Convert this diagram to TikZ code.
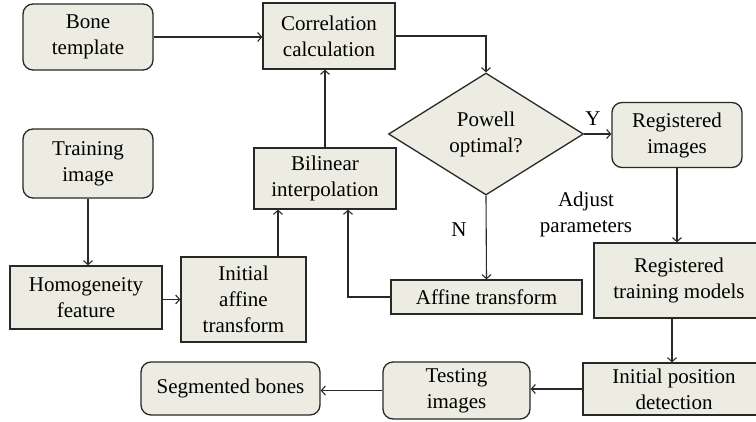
\documentclass[tikz,border=0pt]{standalone}
\usepackage{fontspec}
\setmainfont{Liberation Serif}
\usetikzlibrary{shapes.geometric,arrows.meta}

\definecolor{boxfill}{RGB}{236,236,226}
\definecolor{boxline}{RGB}{40,40,40}

\begin{document}
\begin{tikzpicture}[x=1pt,y=-1pt,
    font=\fontsize{21}{26}\selectfont,
    block/.style={draw=boxline,fill=boxfill,line width=1.3pt,inner sep=0pt,align=center},
    rblock/.style={block,rounded corners=10pt},
    link/.style={draw=boxline,line width=1.1pt,-{Straight Barb[length=4pt,width=9pt]}}]
% Frame
\clip (0,0) rectangle (756,421);
\useasboundingbox (0,0) rectangle (756,421);
% Left column
\node[rblock,minimum width=130,minimum height=66] (bone) at (88,37){Bone\\template};
\node[rblock,minimum width=130,minimum height=69] (train) at (88,163.5){Training\\image};
\node[block,minimum width=152,minimum height=63] (homog) at (86,297.5){Homogeneity\\feature};
\node[block,minimum width=125,minimum height=85] (initaff) at (243.5,299.5){Initial\\affine\\transform};
% Middle column
\node[block,minimum width=132,minimum height=66] (corr) at (329,36){Correlation\\calculation};
\node[block,minimum width=142,minimum height=61] (bilin) at (325,178.5){Bilinear\\interpolation};
\node[diamond,block,minimum width=195,minimum height=122] (powell) at (486,134){Powell\\optimal?};
\node[block,minimum width=191,minimum height=34] (affine) at (486.5,297){Affine transform};
% Right column
\node[rblock,minimum width=130,minimum height=65] (reg) at (677,135){Registered\\images};
\node[block,minimum width=170,minimum height=75] (regtrain) at (679,280.5){Registered\\training models};
\node[block,minimum width=182,minimum height=52] (initpos) at (674,389){Initial position\\detection};
% Bottom row
\node[rblock,minimum width=147,minimum height=57] (testing) at (456.5,390.5){Testing\\images};
\node[rblock,minimum width=179,minimum height=53] (seg) at (230.5,388.5){Segmented bones};
% Labels
\node (ylab) at (593,119){Y};
\node (nlab) at (459,230){N};
\node[align=center] (adjust) at (586,214){Adjust\\parameters};
% Connections
\draw[link] (bone.east) -- (corr.west |- bone.east);
\draw[link] (corr.east) -| (powell.north);
\draw[link] (powell.east) -- (reg.west |- powell.east);
\draw[link] (powell.south) -- (affine.north);
\draw[link] (affine.west) -| (348,0 |- bilin.south);
\draw[link] (bilin.north) -- (bilin.north |- corr.south);
\draw[link] (train.south) -- (train.south |- homog.north);
\draw[link] (homog.east |- initaff.west) -- (initaff.west);
\draw[link] (278,0 |- initaff.north) -- (278,0 |- bilin.south);
\draw[link] (reg.south) -- (reg.south |- regtrain.north);
\draw[link] (672,0 |- regtrain.south) -- (672,0 |- initpos.north);
\draw[link] (initpos.west) -- (testing.east |- initpos.west);
\draw[link] (testing.west) -- (seg.east |- testing.west);
\end{tikzpicture}
\end{document}
